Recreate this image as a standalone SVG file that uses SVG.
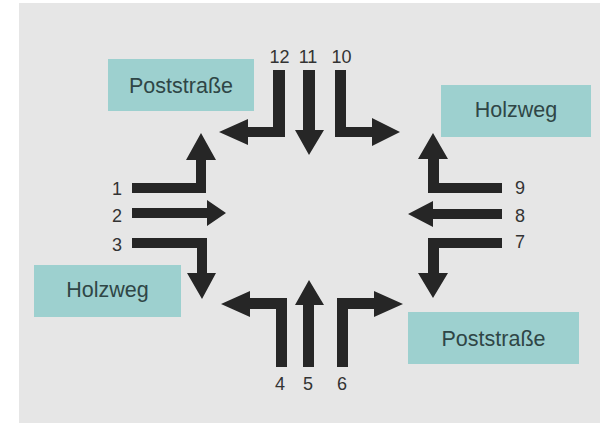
<svg xmlns="http://www.w3.org/2000/svg" width="600" height="423" viewBox="0 0 600 423">
<style>
.arrow{fill:#262626}
.box rect{fill:#9dd0cf}
.box text{font-family:"Liberation Sans",Arial,sans-serif;font-size:21.5px;fill:#2f4646;text-anchor:middle}
.lbl{font-family:"Liberation Sans",Arial,sans-serif;font-size:18px;fill:#333333}
</style>
<rect x="0" y="0" width="600" height="423" fill="#ffffff"/>
<rect x="19" y="3" width="581" height="420" fill="#e6e6e6"/>
<g id="box-poststrasse-nw" class="box"><rect x="108" y="59" width="146" height="52"/><text x="181" y="93">Poststraße</text></g>
<g id="box-holzweg-ne" class="box"><rect x="441" y="85" width="150" height="52"/><text x="516" y="117">Holzweg</text></g>
<g id="box-holzweg-sw" class="box"><rect x="34" y="265" width="147" height="52"/><text x="107.5" y="297">Holzweg</text></g>
<g id="box-poststrasse-se" class="box"><rect x="408" y="312" width="171" height="52"/><text x="493.5" y="346">Poststraße</text></g>
<g id="connectors">
<path id="a1" class="arrow" d="M132,183 H196 V160 H186 L201,133 L216,160 H206 V193 H132 Z"/>
<path id="a2" class="arrow" d="M132,208 H207 V200 L226,213 L207,226 V218 H132 Z"/>
<path id="a3" class="arrow" d="M132,238 H207 V273 H216 L202,299 L187,273 H197 V248 H132 Z"/>
<path id="a4" class="arrow" d="M287,367 V298 H250 V291 L221,304 L250,317 V309 H276 V367 Z"/>
<path id="a5" class="arrow" d="M303,367 V305 H295 L309,280 L324,305 H314 V367 Z"/>
<path id="a6" class="arrow" d="M337,367 V298 H374 V291 L403,304 L374,317 V309 H348 V367 Z"/>
<path id="a7" class="arrow" d="M502,238 H428 V273 H418 L433,298 L448,273 H439 V248 H502 Z"/>
<path id="a8" class="arrow" d="M502,209 H433 V201 L408,214 L433,227 V219 H502 Z"/>
<path id="a9" class="arrow" d="M502,183 H439 V159 H448 L433,133 L418,159 H428 V193 H502 Z"/>
<path id="a10" class="arrow" d="M335,70 H346 V127 H372 V118 L400,132 L372,146 V137 H335 Z"/>
<path id="a11" class="arrow" d="M303,70 H315 V130 H324 L309,155 L295,130 H303 Z"/>
<path id="a12" class="arrow" d="M273,70 H285 V137 H248 V145 L219,132 L248,119 V127 H273 Z"/>
</g>
<g id="labels" class="lbl">
<text x="279.5" y="63" text-anchor="middle">12</text>
<text x="308" y="63" text-anchor="middle">11</text>
<text x="341.5" y="63" text-anchor="middle">10</text>
<text x="122" y="195" text-anchor="end">1</text>
<text x="122" y="222" text-anchor="end">2</text>
<text x="122" y="251" text-anchor="end">3</text>
<text x="515" y="194">9</text>
<text x="515" y="222">8</text>
<text x="515" y="248">7</text>
<text x="280" y="390" text-anchor="middle">4</text>
<text x="308" y="390" text-anchor="middle">5</text>
<text x="342" y="390" text-anchor="middle">6</text>
</g>
</svg>
